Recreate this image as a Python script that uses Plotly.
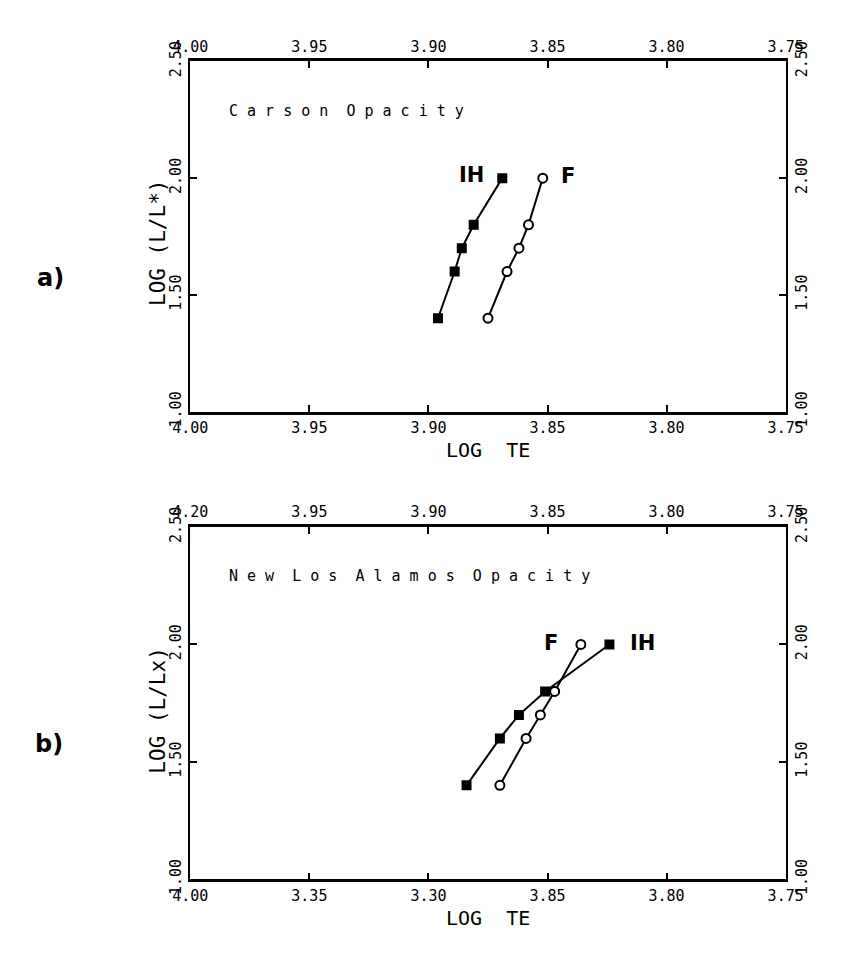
import plotly.graph_objects as go

# ---------------- data ----------------
log_l = [2.0, 1.8, 1.7, 1.6, 1.4]

# panel a) Carson opacity
a_ih_te = [3.869, 3.881, 3.886, 3.889, 3.896]
a_f_te = [3.852, 3.858, 3.862, 3.867, 3.875]

# panel b) New Los Alamos opacity
b_ih_te = [3.824, 3.851, 3.862, 3.870, 3.884]
b_f_te = [3.836, 3.847, 3.853, 3.859, 3.870]

x_tickvals = [4.00, 3.95, 3.90, 3.85, 3.80, 3.75]
a_bottom_labels = ["4.00", "3.95", "3.90", "3.85", "3.80", "3.75"]
a_top_labels = ["4.00", "3.95", "3.90", "3.85", "3.80", "3.75"]
b_bottom_labels = ["4.00", "3.35", "3.30", "3.85", "3.80", "3.75"]
b_top_labels = ["4.20", "3.95", "3.90", "3.85", "3.80", "3.75"]
y_tickvals = [1.00, 1.50, 2.00, 2.50]
y_labels = ["1.00", "1.50", "2.00", "2.50"]

# ---------------- layout geometry ----------------
W, H = 841, 953
x_dom = [180 / W, 802 / W]
a_dom = [1 - 407 / H, 1 - 43 / H]
b_dom = [1 - 893 / H, 1 - 527 / H]

FONT = "DejaVu Sans Mono"
tickfont = dict(family=FONT, size=15, color="black")

fig = go.Figure()

def add_series(xs, ys, xa, ya, symbol, filled):
    fig.add_trace(go.Scatter(
        x=xs, y=ys, xaxis=xa, yaxis=ya, mode="lines+markers",
        line=dict(color="black", width=2),
        marker=dict(symbol=symbol, size=8 if filled else 9,
                    color="black" if filled else "white",
                    line=dict(color="black", width=2)),
        showlegend=False, hoverinfo="skip"))

add_series(a_ih_te, log_l, "x", "y", "square", True)
add_series(a_f_te, log_l, "x", "y", "circle", False)
add_series(b_ih_te, log_l, "x3", "y3", "square", True)
add_series(b_f_te, log_l, "x3", "y3", "circle", False)

# invisible helper traces so that the mirrored label axes are drawn
for xa, ya in [("x2", "y2"), ("x4", "y4")]:
    fig.add_trace(go.Scatter(x=[3.9], y=[1.5], xaxis=xa, yaxis=ya, mode="markers",
                             marker=dict(opacity=0), showlegend=False, hoverinfo="skip"))

def xax(labels, side, anchor, overlay=None):
    d = dict(range=[4.00, 3.75], domain=x_dom, anchor=anchor, side=side,
             tickvals=x_tickvals, ticktext=labels, tickfont=tickfont,
             ticks="inside", ticklen=7, tickwidth=1.5, tickcolor="black",
             showline=True, linecolor="black", linewidth=2.5,
             showgrid=False, zeroline=False, fixedrange=True, ticklabelstandoff=1)
    if overlay:
        d["overlaying"] = overlay
    return d

def yax(dom, side, anchor, overlay=None):
    d = dict(range=[1.00, 2.50], domain=dom, anchor=anchor, side=side,
             tickvals=y_tickvals, ticktext=y_labels, tickfont=tickfont, tickangle=-90,
             ticks="inside", ticklen=7, tickwidth=1.5, tickcolor="black",
             showline=True, linecolor="black", linewidth=2,
             showgrid=False, zeroline=False, fixedrange=True, ticklabelstandoff=1)
    if overlay:
        d["overlaying"] = overlay
    return d

fig.update_layout(
    width=W, height=H, margin=dict(l=0, r=0, t=0, b=0),
    paper_bgcolor="white", plot_bgcolor="white",
    xaxis=xax(a_bottom_labels, "bottom", "y"),
    xaxis2=xax(a_top_labels, "top", "y", "x"),
    yaxis=yax(a_dom, "left", "x"),
    yaxis2=yax(a_dom, "right", "x", "y"),
    xaxis3=xax(b_bottom_labels, "bottom", "y3"),
    xaxis4=xax(b_top_labels, "top", "y3", "x3"),
    yaxis3=yax(b_dom, "left", "x3"),
    yaxis4=yax(b_dom, "right", "x3", "y3"),
)

ann = []
def text(x, y, s, size=17, bold=False, angle=0, family=FONT, xanchor="center"):
    ann.append(dict(x=x / W, y=1 - y / H, xref="paper", yref="paper", text=s,
                    showarrow=False, textangle=angle, xanchor=xanchor, yanchor="middle",
                    font=dict(family=family, size=size, color="black",
                              weight="bold" if bold else "normal")))

# in-plot titles
text(218, 95, "C a r s o n  O p a c i t y", size=15, xanchor="left")
text(218, 578, "N e w  L o s  A l a m o s  O p a c i t y", size=15, xanchor="left")
# axis titles
text(491, 447, "LOG  TE", size=20)
text(491, 933, "LOG  TE", size=20)
text(146, 232, "LOG (L/L*)", size=21, angle=-90)
text(146, 718, "LOG (L/Lx)", size=21, angle=-90)
# series labels (handwritten)
text(474, 161, "IH", size=21, bold=True, family="DejaVu Sans")
text(575, 162, "F", size=21, bold=True, family="DejaVu Sans")
text(557, 647, "F", size=21, bold=True, family="DejaVu Sans")
text(652, 647, "IH", size=21, bold=True, family="DejaVu Sans")
# panel letters
text(34, 268, "a)", size=24, bold=True, family="DejaVu Sans")
text(32, 752, "b)", size=24, bold=True, family="DejaVu Sans")

fig.update_layout(annotations=ann)
fig.write_html("out.html")
